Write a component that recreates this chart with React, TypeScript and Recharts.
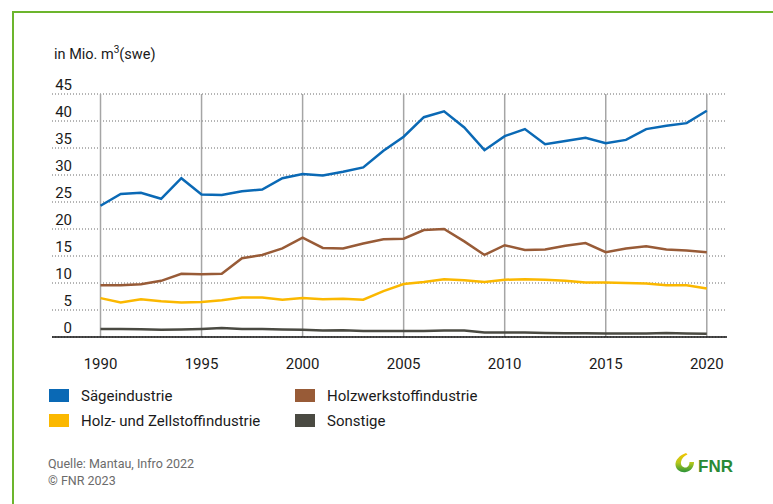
import React from "react";
import { LineChart, Line, XAxis, YAxis, CartesianGrid, ReferenceLine } from "recharts";

const years = [
  1990, 1991, 1992, 1993, 1994, 1995, 1996, 1997, 1998, 1999, 2000, 2001, 2002, 2003, 2004, 2005,
  2006, 2007, 2008, 2009, 2010, 2011, 2012, 2013, 2014, 2015, 2016, 2017, 2018, 2019, 2020,
];

const saege = [
  24.3, 26.5, 26.7, 25.6, 29.4, 26.4, 26.3, 27.0, 27.3, 29.4, 30.2, 29.9, 30.6, 31.4, 34.5, 37.1,
  40.7, 41.8, 38.8, 34.6, 37.2, 38.5, 35.7, 36.3, 36.9, 35.9, 36.5, 38.5, 39.1, 39.6, 41.9,
];
const holzwerk = [
  9.6, 9.6, 9.75, 10.4, 11.7, 11.6, 11.7, 14.6, 15.2, 16.4, 18.4, 16.5, 16.4, 17.3, 18.1, 18.2,
  19.8, 20.0, 17.7, 15.2, 17.0, 16.1, 16.2, 16.9, 17.4, 15.7, 16.4, 16.8, 16.2, 16.0, 15.7,
];
const zellstoff = [
  7.2, 6.4, 7.0, 6.6, 6.4, 6.5, 6.8, 7.3, 7.3, 6.9, 7.2, 7.0, 7.1, 6.9, 8.5, 9.8,
  10.2, 10.7, 10.5, 10.2, 10.6, 10.7, 10.6, 10.4, 10.1, 10.1, 10.0, 9.9, 9.6, 9.6, 9.0,
];
const sonstige = [
  1.5, 1.5, 1.45, 1.35, 1.4, 1.5, 1.65, 1.5, 1.5, 1.4, 1.35, 1.2, 1.25, 1.1, 1.1, 1.1,
  1.1, 1.2, 1.2, 0.85, 0.85, 0.85, 0.75, 0.7, 0.7, 0.65, 0.65, 0.65, 0.75, 0.65, 0.6,
];

const xTicks = [1990, 1995, 2000, 2005, 2010, 2015, 2020];
const yTicks = [0, 5, 10, 15, 20, 25, 30, 35, 40, 45];

const series = [
  { key: "saege", name: "Sägeindustrie", color: "#0a69b5" },
  { key: "holzwerk", name: "Holzwerkstoffindustrie", color: "#985b37" },
  { key: "zellstoff", name: "Holz- und Zellstoffindustrie", color: "#fbb800" },
  { key: "sonstige", name: "Sonstige", color: "#4a4a42" },
];

const data = years.map((year, i) => ({
  year,
  saege: saege[i],
  holzwerk: holzwerk[i],
  zellstoff: zellstoff[i],
  sonstige: sonstige[i],
}));

const FONT = "Roboto, sans-serif";
const TEXT = "#1a1a1a";

function YTick(props: any) {
  const { y, payload } = props;
  return (
    <text x={72} y={y - 4} textAnchor="end" fontSize={15} fill={TEXT} fontFamily={FONT}>
      {payload.value}
    </text>
  );
}

function XTick(props: any) {
  const { x, y, payload } = props;
  return (
    <text x={x} y={y + 24} textAnchor="middle" fontSize={15} fill={TEXT} fontFamily={FONT}>
      {payload.value}
    </text>
  );
}

export default function App() {
  return (
    <div
      style={{
        position: "absolute",
        left: 0,
        top: 0,
        width: 773,
        height: 504,
        background: "#fff",
        fontFamily: FONT,
        overflow: "hidden",
      }}
    >
      {/* green frame, only top and left edges are inside the picture */}
      <div
        style={{
          position: "absolute",
          left: 11.5,
          top: 10.5,
          width: 800,
          height: 600,
          borderTop: "2.5px solid #6cb52d",
          borderLeft: "2.5px solid #6cb52d",
        }}
      />
      <div style={{ position: "absolute", left: 54, top: 46, fontSize: 14.5, color: TEXT }}>
        in Mio. m<sup style={{ fontSize: 10, verticalAlign: "6px", lineHeight: 0 }}>3</sup>(swe)
      </div>

      <div style={{ position: "absolute", left: 0, top: 0 }}>
        <LineChart
          width={773}
          height={504}
          data={data}
          margin={{ top: 94, right: 46, bottom: 137, left: 0 }}
        >
          <CartesianGrid vertical={false} stroke="#6a6a6a" strokeDasharray="1 2" />
          {xTicks.map((t) => (
            <ReferenceLine key={t} x={t} stroke="#a5a5a5" strokeWidth={1.5} />
          ))}
          <XAxis
            dataKey="year"
            type="number"
            domain={[1987.6, 2021]}
            ticks={xTicks}
            height={30}
            axisLine={{ stroke: "#111", strokeWidth: 1.5 }}
            tickLine={false}
            tick={<XTick />}
            interval={0}
          />
          <YAxis
            type="number"
            domain={[0, 45]}
            ticks={yTicks}
            width={52}
            axisLine={false}
            tickLine={false}
            tick={<YTick />}
            interval={0}
          />
          {series.map((s) => (
            <Line
              key={s.key}
              type="linear"
              dataKey={s.key}
              name={s.name}
              stroke={s.color}
              strokeWidth={2.5}
              dot={false}
              activeDot={false}
              isAnimationActive={false}
            />
          ))}
        </LineChart>
      </div>

      {/* legend */}
      <div
        style={{
          position: "absolute",
          left: 49,
          top: 385,
          display: "grid",
          gridTemplateColumns: "246px 246px",
          rowGap: 4,
          fontSize: 15,
          color: TEXT,
        }}
      >
        {series.map((s) => (
          <div key={s.key} style={{ display: "flex", alignItems: "center", height: 21 }}>
            <span style={{ width: 20, height: 13, background: s.color, marginRight: 12, display: "inline-block" }} />
            {s.name}
          </div>
        ))}
      </div>

      {/* footer */}
      <div style={{ position: "absolute", left: 48, top: 455, fontSize: 12.5, color: "#6b6b6b", lineHeight: "17px" }}>
        <div>Quelle: Mantau, Infro 2022</div>
        <div>© FNR 2023</div>
      </div>

      {/* logo */}
      <svg style={{ position: "absolute", left: 672, top: 450 }} width={75} height={26}>
        <defs>
          <linearGradient id="fnrg" x1="0" y1="0" x2="0" y2="1">
            <stop offset="0" stopColor="#f5c400" />
            <stop offset="0.5" stopColor="#b7c81b" />
            <stop offset="1" stopColor="#2a9438" />
          </linearGradient>
        </defs>
        <path
          d="M14 3 C8 5 3 10 3.5 15 C4 20 9 23 14 22 C19 21 22 17 22 12 L17.5 12 C17.5 15 16 17.5 13.5 17.5 C10.5 17.5 8.5 15 9 12 C9.5 8.5 12 6 15.5 4.5 Z"
          fill="url(#fnrg)"
        />
        <text x={26} y={22} fontSize={17} fontWeight="bold" fill="#2a8a35" fontFamily="'Liberation Sans', Arial, sans-serif">
          FNR
        </text>
      </svg>
    </div>
  );
}
